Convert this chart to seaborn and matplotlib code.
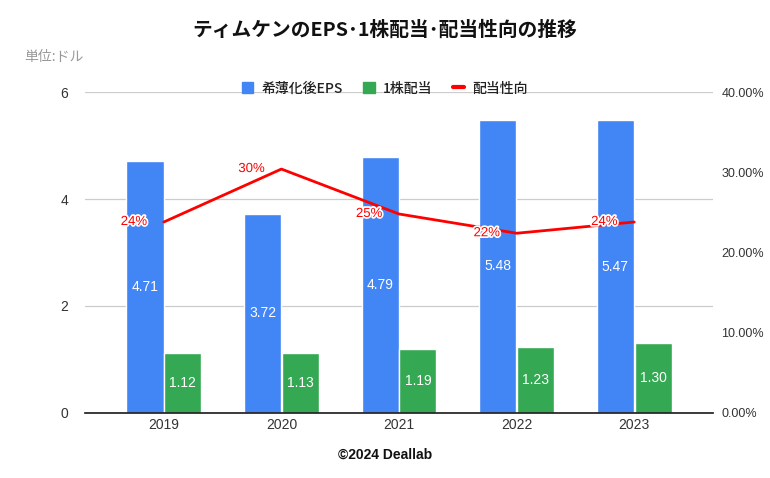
import matplotlib
matplotlib.use("Agg")
import matplotlib.pyplot as plt
import matplotlib.patheffects as pe
from matplotlib.patches import Patch
from matplotlib.lines import Line2D
import seaborn as sns
import pandas as pd

years = ["2019", "2020", "2021", "2022", "2023"]
eps = [4.71, 3.72, 4.79, 5.48, 5.47]
dividend = [1.12, 1.13, 1.19, 1.23, 1.30]
payout = [23.8, 30.4, 24.8, 22.4, 23.8]
payout_labels = ["24%", "30%", "25%", "22%", "24%"]
series_names = ["希薄化後EPS", "1株配当", "配当性向"]
colors = ["#4285F4", "#34A853", "#FF0000"]

sns.set_theme(style="white")
plt.rcParams["font.family"] = ["Liberation Sans", "Noto Sans CJK JP", "DejaVu Sans"]
jp = ["Noto Sans CJK JP", "DejaVu Sans"]

df = pd.DataFrame({
    "year": years * 2,
    "value": eps + dividend,
    "series": [series_names[0]] * 5 + [series_names[1]] * 5,
})

fig = plt.figure(figsize=(7.7, 4.78), dpi=100)
ax = fig.add_axes([0.1104, 0.136, 0.8156, 0.6715])
sns.barplot(data=df, x="year", y="value", hue="series", palette=colors[:2],
            width=0.64, gap=0.015, ax=ax, legend=False, saturation=1)
ax.set_ylim(0, 6)
ax.set_xlim(-0.67, 4.67)
ax.set_yticks([0, 2, 4, 6])
ax.yaxis.grid(True, color="#CCCCCC", linewidth=0.9)
ax.set_axisbelow(True)
for s in ["top", "right", "left"]:
    ax.spines[s].set_visible(False)
ax.spines["bottom"].set_color("#222222")
ax.set_xlabel("")
ax.set_ylabel("")
ax.tick_params(axis="both", length=0, labelsize=10, colors="#333333")
ax.tick_params(axis="y", pad=12)

for cont in ax.containers:
    for bar in cont:
        h = bar.get_height()
        ax.text(bar.get_x() + bar.get_width() / 2, h / 2, f"{h:.2f}",
                ha="center", va="center", color="white", fontsize=10)

ax2 = ax.twinx()
sns.lineplot(x=list(range(5)), y=payout, ax=ax2, color=colors[2], linewidth=2)
ax2.set_ylim(0, 40)
ax2.set_yticks([0, 10, 20, 30, 40])
ax2.set_yticklabels([f"{v:.2f}%" for v in [0, 10, 20, 30, 40]])
ax2.tick_params(axis="y", length=0, labelsize=9, colors="#333333", pad=6)
for s in ax2.spines.values():
    s.set_visible(False)
ax2.set_xlim(-0.67, 4.67)
for i, (v, lab) in enumerate(zip(payout, payout_labels)):
    ax2.text(i - 0.14, v, lab, ha="right", va="center", color=colors[2], fontsize=9.5,
             path_effects=[pe.withStroke(linewidth=2.5, foreground="white")])

handles = [Patch(color=colors[0]), Patch(color=colors[1]),
           Line2D([0], [0], color=colors[2], linewidth=3)]
fig.legend(handles, series_names, loc="center", bbox_to_anchor=(0.5, 0.815),
           ncol=3, frameon=False, prop={"family": jp, "size": 10, "weight": "medium"},
           handlelength=0.8, handleheight=0.8, handletextpad=0.6, columnspacing=1.5,
           labelcolor="#222222")

fig.text(0.5, 0.937, "ティムケンのEPS･1株配当･配当性向の推移", ha="center", va="center",
         fontsize=14.2, fontweight="bold", family=jp, color="#111111")
fig.text(0.032, 0.88, "単位:ドル", ha="left", va="center", fontsize=10,
         family=jp, color="#999999")
fig.text(0.5, 0.048, "©2024 Deallab", ha="center", va="center", fontsize=10,
         fontweight="bold", color="#111111")

fig.savefig("out.png", dpi=100)
